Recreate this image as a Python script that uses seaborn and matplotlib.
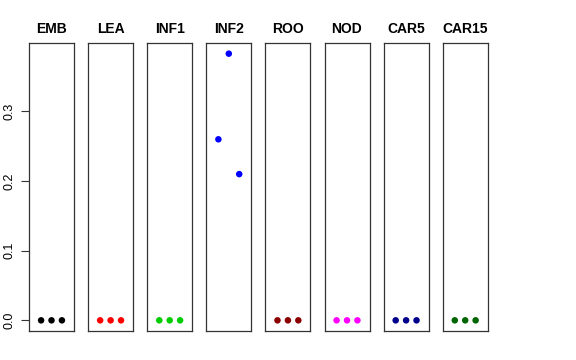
import matplotlib
matplotlib.use("Agg")
import matplotlib.pyplot as plt
import pandas as pd
import seaborn as sns

# tissues and their point colours
tissues = ["EMB", "LEA", "INF1", "INF2", "ROO", "NOD", "CAR5", "CAR15"]
colors = ["#000000", "#FF0000", "#00CD00", "#0000FF",
          "#8B0000", "#FF00FF", "#00008B", "#006400"]

# three replicate values per tissue
replicate = [1, 2, 3]
values = {
    "EMB": [0.0, 0.0, 0.0],
    "LEA": [0.0, 0.0, 0.0],
    "INF1": [0.0, 0.0, 0.0],
    "INF2": [0.260, 0.383, 0.210],
    "ROO": [0.0, 0.0, 0.0],
    "NOD": [0.0, 0.0, 0.0],
    "CAR5": [0.0, 0.0, 0.0],
    "CAR15": [0.0, 0.0, 0.0],
}
yticks = [0.0, 0.1, 0.2, 0.3]

rows = []
for t in tissues:
    for r, v in zip(replicate, values[t]):
        rows.append({"tissue": t, "rep": r, "value": v})
df = pd.DataFrame(rows)

sns.set_style("white")
plt.rcParams["font.family"] = ["Liberation Sans", "DejaVu Sans"]
plt.rcParams["text.color"] = "black"
plt.rcParams["ytick.color"] = "black"
plt.rcParams["ytick.labelcolor"] = "black"

fig = plt.figure(figsize=(5.76, 3.6), dpi=100)
W, H = 576, 360
ymax = df["value"].max()
pad = ymax * 0.04

for i, (t, c) in enumerate(zip(tissues, colors)):
    left = 29 + i * 59.1
    ax = fig.add_axes([left / W, 1 - 331 / H, 45 / W, (331 - 43) / H])
    sub = df[df.tissue == t]
    sns.scatterplot(data=sub, x="rep", y="value", color=c, s=22,
                    edgecolor="none", ax=ax, legend=False)
    ax.set_xlim(-0.16, 4.16)
    ax.set_ylim(-pad, ymax + pad)
    ax.set_xticks([])
    ax.set_xlabel("")
    ax.set_ylabel("")
    for sp in ax.spines.values():
        sp.set_visible(True)
        sp.set_color("#333333")
        sp.set_linewidth(0.9)
    ax.set_title(t, fontsize=10, fontweight="bold", pad=7, color="black")
    if i == 0:
        ax.set_yticks(yticks)
        ax.set_yticklabels([f"{v:.1f}" for v in yticks], rotation=90,
                           va="center", fontsize=9, color="black")
        ax.tick_params(axis="y", left=True, length=6, width=0.8,
                       color="#333333", pad=4)
    else:
        ax.set_yticks([])

fig.savefig("out.png", dpi=100)
